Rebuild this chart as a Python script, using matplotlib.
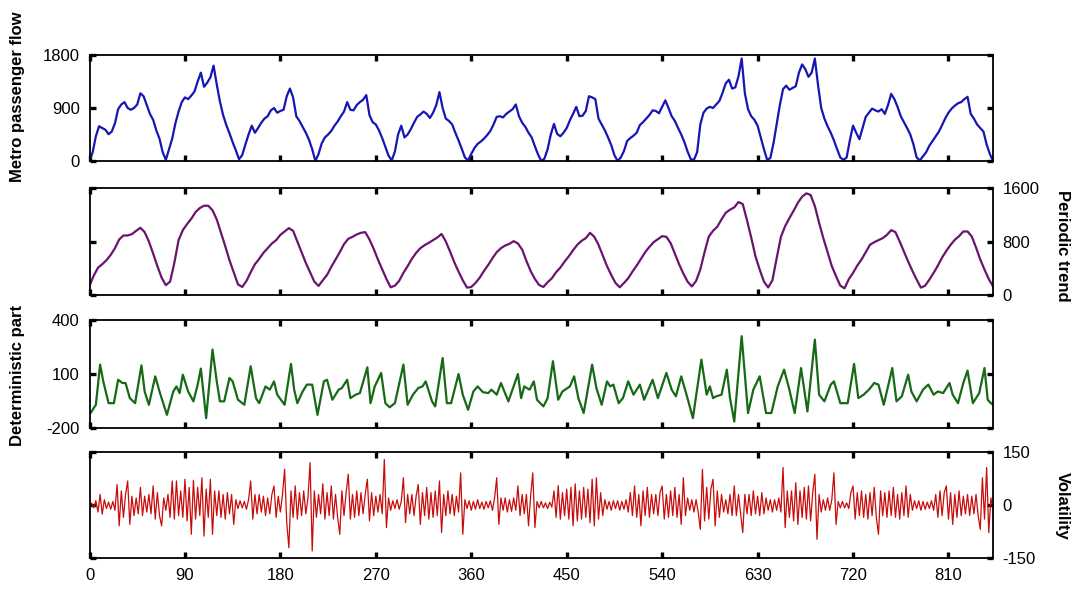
import numpy as np
import matplotlib
matplotlib.use('Agg')
import matplotlib.pyplot as plt

plt.rcParams['font.family'] = ['Liberation Sans', 'DejaVu Sans']
plt.rcParams['axes.unicode_minus'] = False

# ---------------- data ----------------
x_ticks = [0, 90, 180, 270, 360, 450, 540, 630, 720, 810]
x_max = 852

flow_step = 3
flow_values = [
    0, 150, 420, 590, 560, 530, 455, 500, 640, 880, 960, 1000, 900, 870, 900, 960, 1150, 1100, 950, 800, 700, 520, 380, 150,
    20, 200, 380, 640, 840, 1000, 1080, 1050, 1110, 1180, 1350, 1500, 1260, 1330, 1420, 1620, 1300, 1010, 780, 610, 470, 320, 180, 30,
    100, 280, 450, 600, 480, 560, 650, 720, 760, 860, 900, 820, 850, 870, 1100, 1230, 1080, 760, 680, 580, 480, 360, 200, 0,
    120, 300, 400, 450, 510, 600, 670, 760, 840, 1000, 870, 860, 950, 1000, 1040, 1120, 780, 660, 620, 520, 390, 240, 90,
    10, 160, 450, 600, 400, 450, 540, 650, 750, 790, 840, 800, 730, 820, 950, 1170, 900, 720, 680, 620, 480, 350, 210, 60,
    10, 120, 220, 290, 330, 380, 440, 510, 620, 750, 760, 740, 800, 840, 880, 960, 760, 650, 580, 480, 400, 250, 110, 0,
    40, 200, 450, 630, 460, 420, 480, 560, 690, 800, 920, 760, 770, 850, 1100, 1080, 1050, 720, 620, 520, 400, 270, 100,
    0, 60, 170, 340, 390, 430, 480, 610, 660, 720, 780, 860, 850, 810, 920, 1030, 900, 760, 680, 560, 450, 320, 160, 30,
    20, 150, 620, 820, 890, 920, 900, 960, 1020, 1160, 1320, 1380, 1230, 1250, 1440, 1740, 1150, 880, 760, 700, 600, 400, 200, 20,
    50, 300, 620, 950, 1220, 1280, 1210, 1240, 1270, 1500, 1640, 1560, 1430, 1500, 1740, 1290, 900, 720, 590, 480, 350, 200, 60,
    20, 60, 350, 600, 480, 370, 560, 750, 820, 890, 860, 840, 880, 800, 950, 1140, 1050, 920, 760, 660, 560, 450, 280, 60,
    10, 80, 150, 260, 340, 420, 500, 610, 725, 820, 890, 940, 980, 1000, 1050, 1090, 800, 720, 620, 560, 500, 280, 120, 0,
]

trend_step = 4
trend_values = [
    137, 290, 407, 460, 520, 600, 700, 830, 890, 890,
    910, 960, 1005, 940, 800, 620, 432, 260, 147, 200,
    480, 820, 970, 1060, 1140, 1240, 1300, 1335, 1335, 1267,
    1130, 930, 730, 520, 340, 160, 120, 210, 340, 460,
    540, 630, 700, 770, 820, 900, 950, 1000, 960, 800,
    640, 480, 340, 200, 135, 220, 300, 420, 530, 640,
    760, 840, 870, 905, 930, 940, 830, 690, 530, 383,
    240, 115, 140, 211, 330, 432, 540, 630, 700, 745,
    780, 820, 860, 913, 800, 650, 490, 350, 220, 110,
    120, 180, 260, 360, 450, 550, 640, 700, 740, 765,
    805, 770, 678, 510, 358, 240, 150, 120, 190, 250,
    340, 410, 500, 579, 670, 751, 810, 850, 930, 870,
    751, 590, 432, 300, 180, 115, 180, 250, 350, 440,
    540, 640, 720, 790, 835, 880, 870, 776, 620, 460,
    320, 200, 128, 210, 383, 640, 874, 960, 1021, 1130,
    1230, 1275, 1310, 1390, 1360, 1119, 860, 579, 380, 200,
    113, 220, 550, 870, 1030, 1150, 1260, 1380, 1470, 1520,
    1495, 1330, 1080, 850, 640, 432, 280, 140, 100, 236,
    330, 440, 530, 640, 751, 790, 820, 850, 900, 970,
    940, 800, 650, 500, 360, 230, 110, 140, 230, 330,
    440, 560, 660, 750, 825, 880, 950, 950, 874, 710,
    530, 380, 240, 130,
]

det_time = [
    0, 1, 6, 10, 13, 18, 23, 27, 31, 34,
    38, 43, 49, 52, 56, 62, 66, 73, 79, 82,
    85, 88, 93, 98, 102, 105, 110, 116, 120, 123,
    127, 132, 135, 140, 146, 152, 157, 160, 166, 170,
    174, 177, 184, 190, 193, 196, 201, 205, 210, 215,
    221, 224, 229, 235, 238, 243, 246, 251, 255, 262,
    265, 269, 275, 279, 283, 288, 296, 300, 305, 310,
    314, 317, 323, 326, 333, 337, 341, 348, 352, 357,
    362, 366, 371, 376, 379, 384, 388, 395, 401, 404,
    407, 410, 415, 419, 422, 428, 432, 437, 442, 446,
    453, 457, 461, 466, 474, 478, 483, 488, 491, 494,
    499, 503, 508, 513, 519, 523, 531, 536, 544, 549,
    553, 558, 563, 569, 577, 582, 585, 588, 591, 596,
    601, 604, 608, 615, 621, 626, 632, 638, 643, 649,
    655, 660, 665, 671, 677, 684, 688, 693, 699, 702,
    708, 715, 721, 725, 730, 735, 740, 744, 749, 757,
    761, 766, 772, 775, 780, 786, 791, 796, 800, 805,
    811, 814, 819, 824, 828, 833, 839, 844, 847, 850,
    852,
]
det_values = [
    -120, -117, -71, 152, 59, -62, -62, 68, 50, 50,
    -34, -62, 148, 3, -71, 87, 3, -127, 3, 31,
    -6, 96, 3, -52, 41, 130, -145, 236, 59, -52,
    -52, 78, 59, -43, -71, 143, -34, -62, 31, 13,
    59, -15, -71, 156, 13, -62, 3, 41, 41, -127,
    59, 68, -43, 13, 22, 68, -34, -15, -6, 137,
    -62, 31, 106, -62, -85, -62, 152, -71, -15, 22,
    31, 59, -52, -80, 189, -62, -62, 100, -15, -99,
    3, 31, -1, -6, 13, -15, 50, -52, 50, 100,
    -34, 31, 13, 59, -43, -80, -34, 171, -43, 3,
    31, 87, -34, -117, 152, 22, -71, 59, 31, 41,
    -62, -34, 59, -15, 41, -43, 68, -34, 106, 13,
    -24, 87, -15, -145, 180, -15, 31, -34, -24, -15,
    124, -34, -164, 310, -117, 13, 87, -117, -117, 31,
    124, 13, -117, 133, -108, 291, -15, -52, 41, 59,
    -62, -62, 156, -34, -15, 13, 50, 41, -71, 133,
    -52, -24, 96, 3, -52, 13, 41, -15, 3, -6,
    50, -15, -62, 50, 119, -62, -6, 133, -43, -62,
    -70,
]

vol_step = 2
vol_values = [
    0, 5, -8, 12, -20, 30, -26, 15, -10, 8,
    -12, 10, -15, 58, -59, 40, -35, 30, 68, -55,
    25, -30, 20, -25, 50, -30, 25, -20, 30, -25,
    54, -40, 35, -30, -59, 20, -15, 30, -35, 68,
    -40, 68, -30, 40, -35, 73, -45, 50, -83, 70,
    -40, 50, -30, 77, -88, 45, -35, 73, -83, 40,
    -30, 40, -35, 30, -40, 35, -25, 30, -55, 15,
    -10, 12, -8, 10, -12, 15, 68, -40, 30, -25,
    30, -20, 25, -30, 20, -25, 30, 54, -35, 25,
    -20, 30, 101, -50, -121, 40, -35, 54, -40, 35,
    -30, 40, -25, 20, 120, -130, 40, -35, 30, -25,
    60, -40, 35, -30, 54, -40, 30, -35, -83, 40,
    -30, 35, 87, -40, 30, -35, 40, -30, 35, -25,
    30, 73, -45, 35, -30, 25, -20, 30, -25, 129,
    -64, 20, -15, 12, -10, 15, -12, 10, 77, -50,
    30, -25, 30, -30, 25, 58, -55, 35, -30, 50,
    -40, 35, -35, 40, -30, 68, -78, 30, -30, 40,
    -25, 30, -30, 25, -20, 91, -83, 15, -10, 12,
    -15, 10, -12, 15, -10, 8, -12, 10, -8, 12,
    -15, 20, 77, -55, 20, -15, 20, -20, 15, -18,
    20, -15, 54, -30, 30, -25, 30, -59, 25, 91,
    -64, 10, -8, 10, -8, 6, -10, 8, -6, 40,
    -35, 55, -40, 35, -30, 45, -40, 50, -59, 60,
    -45, 40, -40, 50, -35, 45, -50, 73, -59, 77,
    -40, 35, -30, 15, -12, 10, -15, 12, -10, 12,
    -15, 10, -12, 15, -20, 35, -30, 54, -35, 30,
    -59, 40, -30, 50, -35, 30, -25, 30, -30, 35,
    54, -40, 30, -35, 40, -30, 50, -35, 30, -55,
    77, -30, 20, -15, 15, -20, 15, -20, -69, 101,
    -45, 50, -40, 45, 73, -59, 40, -35, 30, -20,
    15, -25, 30, -30, 54, -30, 30, -25, -78, 30,
    -25, 30, -30, 40, -25, 25, -30, 35, -25, 20,
    -15, 15, -20, 15, -15, 20, -20, 106, -64, 40,
    -35, 40, -45, 63, -55, 40, -35, 50, -40, 54,
    -45, 35, 87, -97, 30, -20, 15, -15, 20, -15,
    15, 91, -55, 10, -8, 10, -8, 6, -10, 35,
    54, -40, 35, -30, 40, -35, 30, -40, 35, -30,
    50, -35, -83, 40, -30, 35, -35, 40, -30, 50,
    -35, 30, -40, 35, -30, 54, -35, 30, -15, 12,
    -10, 12, -15, 10, -12, 8, -10, 12, -15, 30,
    -35, 40, -30, 35, 54, -40, 35, -55, 30, -35,
    40, -30, 25, -25, 30, -30, 25, -25, 30, -30,
    -69, 77, -40, 106, -78, 20, -10,
]

panels = [
    dict(label='Metro passenger flow', ylim=(0, 1800), yticks=[0, 900, 1800], side='left'),
    dict(label='Periodic trend', ylim=(0, 1600), yticks=[0, 800, 1600], side='right'),
    dict(label='Deterministic part', ylim=(-200, 400), yticks=[-200, 100, 400], side='left'),
    dict(label='Volatility', ylim=(-150, 150), yticks=[-150, 0, 150], side='right'),
]
colors = ['#1616B4', '#6A1470', '#166A16', '#C80C0C']

# ---------------- figure ----------------
W, H = 1077, 594
fig = plt.figure(figsize=(W / 100, H / 100), dpi=100)
left_px, right_px = 89.5, 993
bounds_px = [(55, 161), (188, 295), (320, 428), (452, 558)]

axes = []
for (top, bot) in bounds_px:
    ax = fig.add_axes([left_px / W, 1 - bot / H, (right_px - left_px) / W, (bot - top) / H])
    axes.append(ax)

axes[0].plot(np.arange(len(flow_values)) * flow_step, flow_values, color=colors[0], lw=1.6,
             solid_joinstyle='round')
axes[1].plot(np.arange(len(trend_values)) * trend_step, trend_values, color=colors[1], lw=1.6,
             solid_joinstyle='round')
axes[2].plot(det_time, det_values, color=colors[2], lw=1.6, solid_joinstyle='round')
axes[3].plot(np.arange(len(vol_values)) * vol_step, vol_values, color=colors[3], lw=0.9)

for i, (ax, p) in enumerate(zip(axes, panels)):
    ax.set_xlim(0, x_max)
    ax.set_ylim(*p['ylim'])
    ax.set_xticks(x_ticks)
    ax.set_yticks(p['yticks'])
    for s in ax.spines.values():
        s.set_linewidth(1.3)
    ax.tick_params(axis='both', which='major', direction='in', length=4.5, width=2.4,
                   top=True, bottom=True, left=True, right=True, labelsize=12, pad=7)
    ax.tick_params(axis='x', labelbottom=(i == 3), labeltop=False)
    if p['side'] == 'left':
        ax.tick_params(axis='y', labelleft=True, labelright=False)
    else:
        ax.tick_params(axis='y', labelleft=False, labelright=True)

fig.text(18 / W, 1 - 97 / H, panels[0]['label'], rotation=90, ha='center', va='center',
         fontsize=12, fontweight='bold')
fig.text(1062 / W, 1 - 246 / H, panels[1]['label'], rotation=-90, ha='center', va='center',
         fontsize=12, fontweight='bold')
fig.text(18 / W, 1 - 375 / H, panels[2]['label'], rotation=90, ha='center', va='center',
         fontsize=12, fontweight='bold')
fig.text(1062 / W, 1 - 506 / H, panels[3]['label'], rotation=-90, ha='center', va='center',
         fontsize=12, fontweight='bold')

fig.savefig('out.png', dpi=100)
